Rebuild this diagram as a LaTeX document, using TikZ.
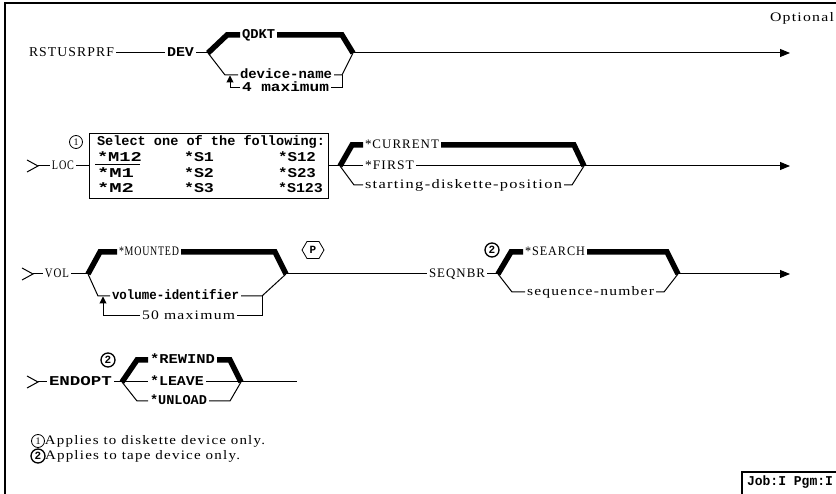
\documentclass[tikz,border=0pt]{standalone}
\usepackage{fontspec}
\usepackage{graphicx}
\usetikzlibrary{arrows.meta}
\newfontfamily\ltf{Liberation Serif}[LetterSpace=8]
\newfontfamily\bdf{Liberation Mono}
\newcommand\txl[2]{\resizebox{#1pt}{\height}{\ltf\fontsize{13}{15}\selectfont #2}}
\newcommand\txlb[2]{\resizebox{#1pt}{\height}{\ltf\fontsize{13.5}{15}\selectfont #2}}
\newcommand\txb[2]{\resizebox{#1pt}{\height}{\bdf\bfseries\fontsize{13.5}{15}\selectfont #2}}
\tikzset{
  tx/.style={inner sep=0pt, outer xsep=2pt, outer ysep=0pt, anchor=west, text height=7.8pt, text depth=0pt},
  thin/.style={line width=1pt},
  thk/.style={line width=5.5pt},
  arr/.style={-{Triangle[length=10pt,width=8pt]}},
  arrs/.style={-{Triangle[length=7pt,width=7pt]}},
  cnum/.style={circle, draw, line width=0.8pt, inner sep=0pt, minimum size=13pt, font=\ltf\fontsize{10}{10}\selectfont},
  cnumb/.style={circle, draw, line width=1.3pt, inner sep=0pt, minimum size=14pt, font=\bdf\bfseries\fontsize{11}{11}\selectfont},
}
\begin{document}
\begin{tikzpicture}[x=1pt,y=-1pt]
\useasboundingbox (0,0) rectangle (836,494);
% frame
\draw[line width=1.2pt] (5,500) -- (5,3) -- (840,3);
\node[tx] (opt) at (768,18) {\txl{64}{Optional}};
% ---------- row 1
\node[tx] (rst) at (27,53) {\txlb{85}{RSTUSRPRF}};
\node[tx] (dev) at (165,53) {\txb{27}{DEV}};
\coordinate (b1) at (208,53);
\coordinate (m1) at (353,53);
\coordinate (e1) at (790,53);
\draw[thin] (rst.east) -- (dev.west);
\draw[thin] (dev.east) -- (b1);
\node[tx] (qdkt) at (240,35) {\txb{33}{QDKT}};
\draw[thk] (b1) -- (227,35) -- (qdkt.west);
\draw[thk] (qdkt.east) -- (342,35) -- (m1);
\draw[thin,arr] (m1) -- (e1);
\node[tx] (dname) at (238,75) {\txb{92}{device-name}};
\draw[thin] (b1) -- (225,75) -- (dname.west);
\draw[thin] (dname.east) -- (342,75) -- (m1);
\node[tx] (max4) at (240,88) {\txb{87}{4 maximum}};
\draw[thin] (342,75) -- (342,88) -- (max4.east);
\draw[thin,arrs] (max4.west) -- (230,88) -- (230,75.5);
% ---------- row 2
\coordinate (ch2) at (38,166);
\draw[thin] (27,160) -- (ch2) -- (27,172);
\node[tx] (loc) at (50,166) {\txl{22}{LOC}};
\draw[thin] (ch2) -- (loc.west);
\node[draw, line width=1pt, minimum width=239pt, minimum height=65pt, anchor=north west, inner sep=0pt] (selbox) at (89,133) {};
\draw[thin] (loc.east) -- (loc.east -| selbox.west);
\node[cnum] (n1) at (76,142) {1};
\node[tx] (sel) at (95,142) {\txb{228}{Select one of the following:}};
\node[tx] (m12) at (95,158) {\txb{45}{*M12}};
\node[tx] (mm1) at (95,174) {\txb{37}{*M1}};
\node[tx] (mm2) at (95,189) {\txb{37}{*M2}};
\node[tx] (s1) at (182,158) {\txb{30}{*S1}};
\node[tx] (s2) at (182,174) {\txb{30}{*S2}};
\node[tx] (s3) at (182,189) {\txb{30}{*S3}};
\node[tx] (s12) at (276,158) {\txb{38}{*S12}};
\node[tx] (s23) at (276,174) {\txb{38}{*S23}};
\node[tx] (s123) at (276,189) {\txb{45}{*S123}};
\draw[line width=0.9pt] (95,164.5) -- (140,164.5);
\coordinate (b2) at (340,166);
\coordinate (m2) at (584,166);
\coordinate (e2) at (790,166);
\draw[thin] (b2 -| selbox.east) -- (b2);
\node[tx] (cur) at (363,145) {\txl{74}{*CURRENT}};
\draw[thk] (b2) -- (352,145) -- (cur.west);
\draw[thk] (cur.east) -- (574,145) -- (m2);
\node[tx] (first) at (363,166) {\txl{49}{*FIRST}};
\draw[thin] (b2) -- (first.west);
\draw[thin] (first.east) -- (m2);
\node[tx] (start) at (363,185) {\txl{197}{starting-diskette-position}};
\draw[thin] (b2) -- (354,185) -- (start.west);
\draw[thin] (start.east) -- (572,185) -- (m2);
\draw[thin,arr] (m2) -- (e2);
% ---------- row 3
\coordinate (ch3) at (33,274);
\draw[thin] (22,268) -- (ch3) -- (22,280);
\node[tx] (vol) at (43,274) {\txl{24}{VOL}};
\draw[thin] (ch3) -- (vol.west);
\coordinate (b3) at (88,274);
\coordinate (m3) at (286,274);
\draw[thin] (vol.east) -- (b3);
\node[tx] (mnt) at (117,252) {\txl{60}{*MOUNTED}};
\draw[thk] (b3) -- (100,252) -- (mnt.west);
\draw[thk] (mnt.east) -- (275,252) -- (m3);
\node[tx] (vid) at (110,296) {\txb{127}{volume-identifier}};
\draw[thin] (b3) -- (98,296) -- (vid.west);
\draw[thin] (vid.east) -- (262,296) -- (m3);
\node[tx] (max50) at (140,316) {\txl{93}{50 maximum}};
\draw[thin] (262,296) -- (262,316) -- (max50.east);
\draw[thin,arrs] (max50.west) -- (103,316) -- (103,296.5);
\node[inner sep=0pt, font=\bdf\bfseries\fontsize{11}{11}\selectfont] (p) at (313,250) {P};
\draw[line width=0.8pt] (302,250) -- (307,241.5) -- (319,241.5) -- (324,250) -- (319,258.5) -- (307,258.5) -- cycle;
\node[tx] (seq) at (427,274) {\txl{56}{SEQNBR}};
\draw[thin] (m3) -- (seq.west);
\node[cnumb] (n2a) at (492,250) {2};
\coordinate (b4) at (498,274);
\coordinate (m4) at (678,274);
\coordinate (e4) at (790,274);
\draw[thin] (seq.east) -- (b4);
\node[tx] (srch) at (523,252) {\txl{60}{*SEARCH}};
\draw[thk] (b4) -- (511,252) -- (srch.west);
\draw[thk] (srch.east) -- (667,252) -- (m4);
\node[tx] (seqn) at (525,292) {\txl{127}{sequence-number}};
\draw[thin] (b4) -- (512,292) -- (seqn.west);
\draw[thin] (seqn.east) -- (664,292) -- (m4);
\draw[thin,arr] (m4) -- (e4);
% ---------- row 4
\coordinate (ch4) at (38,382);
\draw[thin] (27,376) -- (ch4) -- (27,388);
\node[tx] (endopt) at (47,382) {\txb{63}{ENDOPT}};
\draw[thin] (ch4) -- (endopt.west);
\coordinate (b5) at (122,382);
\coordinate (m5) at (241,382);
\coordinate (e5) at (297,382);
\draw[thin] (endopt.east) -- (b5);
\node[cnumb] (n2b) at (108,360) {2};
\node[tx] (rew) at (148,360) {\txb{65}{*REWIND}};
\draw[thk] (b5) -- (137,360) -- (rew.west);
\draw[thk] (rew.east) -- (230,360) -- (m5);
\node[tx] (leave) at (148,382) {\txb{54}{*LEAVE}};
\draw[thin] (b5) -- (leave.west);
\draw[thin] (leave.east) -- (m5);
\node[tx] (unl) at (148,401) {\txb{57}{*UNLOAD}};
\draw[thin] (b5) -- (137,401) -- (unl.west);
\draw[thin] (unl.east) -- (230,401) -- (m5);
\draw[thin] (m5) -- (e5);
% ---------- footnotes
\node[cnum] (f1) at (38,441) {1};
\node[tx, outer xsep=0pt] (f1t) at (45,441) {\txl{220}{Applies to diskette device only.}};
\node[cnumb] (f2) at (38,456) {2};
\node[tx, outer xsep=0pt] (f2t) at (45,456) {\txl{195}{Applies to tape device only.}};
% ---------- job box
\draw[line width=1.3pt] (742,500) -- (742,472) -- (840,472);
\node[tx, outer xsep=0pt] (job) at (747,482) {\txb{86}{Job:I Pgm:I}};
\end{tikzpicture}
\end{document}
